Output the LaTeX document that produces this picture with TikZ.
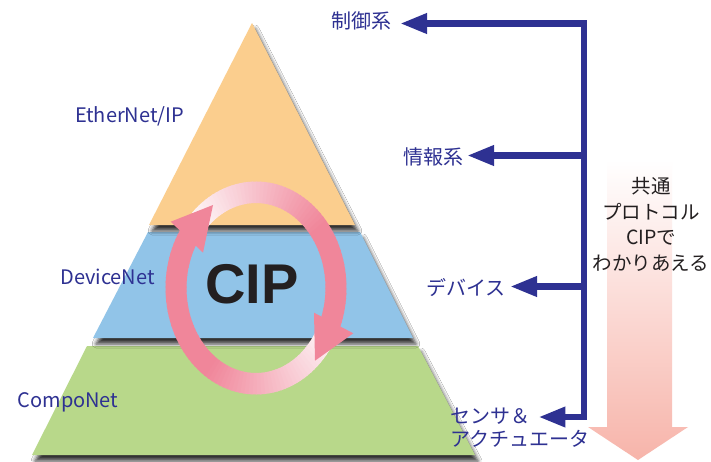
\documentclass[tikz,border=0pt]{standalone}
\usepackage{fontspec}
\setmainfont{Noto Sans CJK JP}
\newfontfamily\cipfont{Liberation Sans}
\usetikzlibrary{arrows.meta,calc,shadows.blur}
\definecolor{navy}{RGB}{46,49,146}
\definecolor{layerorange}{RGB}{251,206,142}
\definecolor{layerblue}{RGB}{145,196,232}
\definecolor{layergreen}{RGB}{184,216,138}
\definecolor{ringpink}{RGB}{240,134,154}
\definecolor{salmon}{RGB}{247,180,170}
\definecolor{inkblack}{RGB}{35,31,32}
\begin{document}
\begin{tikzpicture}[x=1pt,y=-1pt,
  layer/.style={blur shadow={shadow xshift=3pt,shadow yshift=-6pt,shadow blur radius=4pt,shadow opacity=80}},
  netlabel/.style={text=navy,font=\fontsize{20}{24}\selectfont,inner sep=0pt,anchor=base},
  jplabel/.style={text=navy,font=\fontsize{20}{23}\selectfont,inner sep=0pt},
  navyline/.style={draw=navy,line width=6.5pt,line join=miter},
  navytip/.style={-{Triangle[length=27pt,width=19pt]}},
]
\useasboundingbox (0,0) rectangle (711,461);
\fill[white] (0,0) rectangle (711,461);

% pyramid layers
\fill[layergreen,layer] (87,346) -- (418,346) -- (475,455) -- (32,455) -- cycle;
\fill[layerblue,layer] (148,232) -- (360,232) -- (413,338) -- (93,338) -- cycle;
\fill[layerorange,layer] (252,23) -- (355,225) -- (149,225) -- cycle;

% gradient arrow on the right
\shade[top color=white,bottom color=salmon] (607,160) -- (672,160) -- (672,427) -- (688,427) -- (638,460) -- (588,427) -- (607,427) -- cycle;

% CIP ring
\foreach \s/\e/\n in {28/215/70,-135/24/60}{
  \foreach \i in {1,...,\n}{
    \pgfmathsetmacro{\a}{\s+(\e-(\s))/\n*(\i-1)}
    \pgfmathsetmacro{\b}{\s+(\e-(\s))/\n*\i+0.6}
    \pgfmathsetmacro{\p}{min(100,10+(\a-(\s))/95*90)}
    \fill[ringpink!\p!white] ({256+90.5*cos(\a)},{288+106.5*sin(\a)}) -- ({256+90.5*cos(\b)},{288+106.5*sin(\b)}) -- ({256+69.5*cos(\b)},{288+85*sin(\b)}) -- ({256+69.5*cos(\a)},{288+85*sin(\a)}) -- cycle;
  }
}
\fill[ringpink] (170.7,221.7) -- (213,205) -- (203,252.7) -- cycle;
\fill[ringpink] (314,312.7) -- (353.3,333.3) -- (315,360.7) -- cycle;

% texts
\node[netlabel] (eth) at (129.7,122.3) {EtherNet/IP};
\node[netlabel] (dev) at (107.5,284.5) {DeviceNet};
\node[netlabel] (comp) at (68,407.3) {CompoNet};
\node[font=\cipfont\bfseries\fontsize{56}{60}\selectfont,text=inkblack,inner sep=0pt,anchor=base] (cip) at (251.7,303.3) {CIP};

\node[jplabel,anchor=base east] (ctrl) at (392,28.6) {制御系};
\node[jplabel,anchor=base east] (info) at (464,164.3) {情報系};
\node[jplabel,anchor=base east] (devi) at (506,295.6) {デバイス};
\node[jplabel,anchor=base west] (sens) at (450,423.5) {センサ＆};
\node[jplabel,anchor=base west] (act) at (450,446.5) {アクチュエータ};

\node[align=center,font=\fontsize{19.5}{25.7}\selectfont,text=inkblack,inner sep=0pt] (common) at (651,224.5) {共通\\プロトコル\\CIPで\\わかりあえる};

% navy connectors
\coordinate (tr) at (584,23.5);
\coordinate (j2) at (584,155.5);
\coordinate (j3) at (584,286.5);
\coordinate (br) at (584,417);
\draw[navyline,{Triangle[length=27pt,width=19pt]}-{Triangle[length=27pt,width=19pt]},shorten <=8pt,shorten >=8pt] (tr -| ctrl.east) -- (tr) -- (br) -- (br -| sens.east);
\draw[navyline,navytip,shorten >=3pt] (j2) -- (j2 -| info.east);
\draw[navyline,navytip,shorten >=4pt] (j3) -- (j3 -| devi.east);
\end{tikzpicture}
\end{document}
